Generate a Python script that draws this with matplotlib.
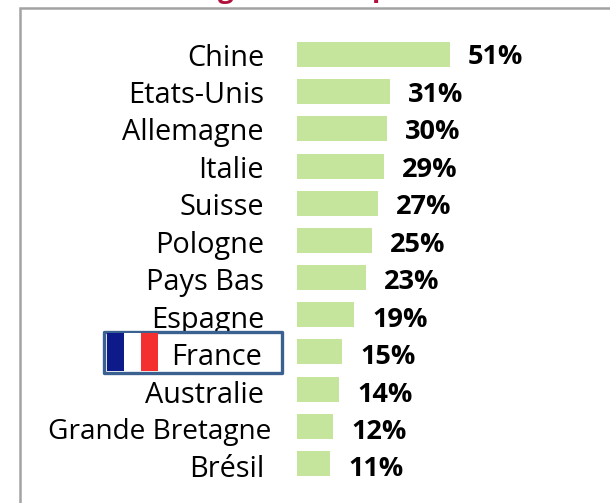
import matplotlib
matplotlib.use("Agg")
import matplotlib.pyplot as plt
from matplotlib.patches import Rectangle, FancyBboxPatch

categories = ["Chine", "Etats-Unis", "Allemagne", "Italie", "Suisse", "Pologne",
              "Pays Bas", "Espagne", "France", "Australie", "Grande Bretagne", "Brésil"]
values = [51, 31, 30, 29, 27, 25, 23, 19, 15, 14, 12, 11]
value_labels = ["51%", "31%", "30%", "29%", "27%", "25%", "23%", "19%", "15%", "14%", "12%", "11%"]

W, H = 610, 503
FONT = "Open Sans"
plt.rcParams['font.family'] = [FONT, 'DejaVu Sans']

fig = plt.figure(figsize=(W / 100, H / 100), dpi=100, facecolor="white")

def px(x0, y0, w, h):
    return [x0 / W, 1 - (y0 + h) / H, w / W, h / H]

STEP = 37.18
TOP = 54.5 - STEP / 2
ax = fig.add_axes(px(297, TOP, 300, 12 * STEP))
ax.set_xlim(0, 100)
ax.set_ylim(11.5, -0.5)
ax.axis("off")

# outer frame (runs past the right and bottom edges)
fig.add_artist(Rectangle((19.5 / W, -0.1), 1.2, 1.1 - 8 / H, transform=fig.transFigure,
                         fill=False, edgecolor="#a3a3a3", linewidth=1.8))

# clipped title fragments
fig.text(226 / W, 1 + 3 / H, "g", color="#b0123c", fontsize=20, fontweight="bold", ha="center", va="baseline")
fig.text(381 / W, 1 + 4 / H, "p", color="#b0123c", fontsize=20, fontweight="bold", ha="center", va="baseline")

ax.barh(range(len(values)), values, height=25 / STEP, color="#c5e59d", zorder=2)

LABEL_SCALE = 37.45 / STEP
FS = 20.8
VFS = 19.5
right_edge = {"Grande Bretagne": 271, "France": 262}
sizes = {"Grande Bretagne": 20.2}
for i, (c, v, vl) in enumerate(zip(categories, values, value_labels)):
    y = i * LABEL_SCALE
    rx = right_edge.get(c, 264)
    ax.text((rx - 297) / 3, y, c, ha="right", va="center_baseline", fontsize=sizes.get(c, FS),
            color="black", clip_on=False, zorder=4 if c == "France" else 2)
    ax.text(v + 6, y, vl, ha="left", va="center_baseline", fontsize=VFS,
            fontweight="bold", color="black", clip_on=False, zorder=4)

# French flag highlight box
def fx(p):
    return p / W
def fy(p):
    return 1 - p / H
box = FancyBboxPatch((fx(104), fy(373)), 178 / W, 41 / H, boxstyle="square,pad=0",
                     transform=fig.transFigure, facecolor="white", edgecolor="#3b6190",
                     linewidth=2.4, joinstyle="round", clip_on=False, zorder=3)
ax.add_patch(box)
for i, col in enumerate(["#0d1a8a", "white", "#f42f30"]):
    ax.add_patch(Rectangle((fx(107 + 17 * i), fy(371)), 17 / W, 38 / H, transform=fig.transFigure,
                           facecolor=col, edgecolor="none", clip_on=False, zorder=3.5))

fig.savefig("out.png", dpi=100)
